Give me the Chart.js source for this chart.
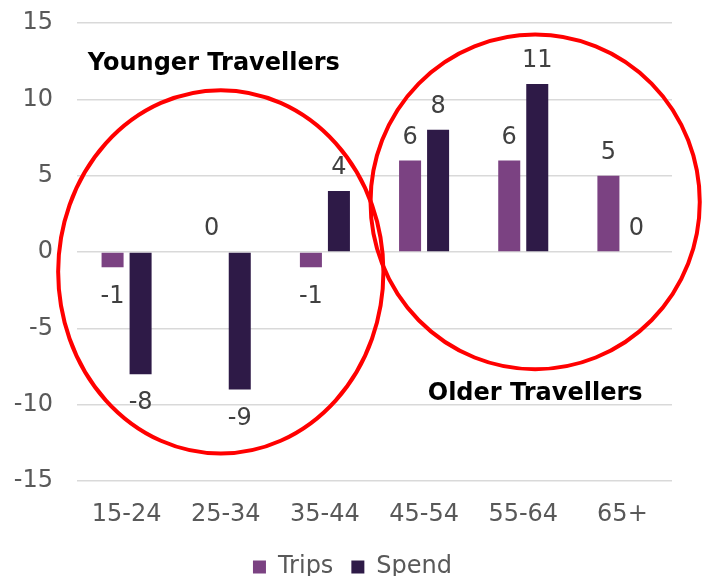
<!DOCTYPE html>
<html>
<head>
<meta charset="utf-8">
<script src="https://cdn.jsdelivr.net/npm/chart.js@4/dist/chart.umd.min.js"></script>
<style>
  html, body { margin: 0; padding: 0; background: #fff; }
  #wrap { width: 705px; height: 576px; }
</style>
</head>
<body>
<div id="wrap"><canvas id="chart" width="705" height="576"></canvas></div>
<script>
// 年齢層別の Trips / Spend 変化
const ageGroups = ['15-24', '25-34', '35-44', '45-54', '55-64', '65+'];
const tripsValues = [-1, 0, -1, 6, 6, 5];
const spendValues = [-8, -9, 4, 8, 11, 0];
const yTicks = [-15, -10, -5, 0, 5, 10, 15];

// 注記（カテゴリ番号と値の単位で指定）
const groupNotes = [
  { text: 'Younger Travellers', x: 0.88, y: 12.35, cx: 0.95, cy: -1.3, rx: 1.64, ry: 11.9 },
  { text: 'Older Travellers', x: 4.12, y: -9.3, cx: 4.12, cy: 3.28, rx: 1.66, ry: 10.96 }
];

const FONT = '"DejaVu Sans", Verdana, sans-serif';

const valueLabels = {
  id: 'valueLabels',
  afterDatasetsDraw(chart) {
    const ctx = chart.ctx;
    ctx.save();
    ctx.font = '24px ' + FONT;
    ctx.fillStyle = '#404040';
    ctx.textAlign = 'center';
    ctx.textBaseline = 'middle';
    chart.data.datasets.forEach((ds, i) => {
      chart.getDatasetMeta(i).data.forEach((bar, j) => {
        const v = ds.data[j];
        const y = v < 0 ? bar.y + 29 : bar.y - 23;
        ctx.fillText(String(v), bar.x, y);
      });
    });
    ctx.restore();
  }
};

const notes = {
  id: 'notes',
  afterDatasetsDraw(chart) {
    const ctx = chart.ctx;
    const xs = chart.scales.x, ys = chart.scales.y;
    const step = xs.getPixelForValue(1) - xs.getPixelForValue(0);
    const unit = ys.getPixelForValue(0) - ys.getPixelForValue(1);
    ctx.save();
    groupNotes.forEach(n => {
      ctx.beginPath();
      ctx.ellipse(xs.getPixelForValue(n.cx), ys.getPixelForValue(n.cy),
        n.rx * step, n.ry * unit, 0, 0, Math.PI * 2);
      ctx.strokeStyle = '#ff0000';
      ctx.lineWidth = 4;
      ctx.stroke();
      ctx.font = 'bold 24px ' + FONT;
      ctx.fillStyle = '#000';
      ctx.textAlign = 'center';
      ctx.textBaseline = 'middle';
      ctx.fillText(n.text, xs.getPixelForValue(n.x), ys.getPixelForValue(n.y));
    });
    ctx.restore();
  }
};

new Chart(document.getElementById('chart'), {
  type: 'bar',
  data: {
    labels: ageGroups,
    datasets: [
      { label: 'Trips', data: tripsValues, backgroundColor: '#7b4282' },
      { label: 'Spend', data: spendValues, backgroundColor: '#2e1a47' }
    ]
  },
  options: {
    responsive: false,
    animation: false,
    categoryPercentage: 0.565,
    barPercentage: 0.786,
    layout: { padding: { top: 23, right: 0, left: 0, bottom: -13 } },
    scales: {
      x: {
        afterFit(s) { s.height = 56; },
        grid: { display: false, drawTicks: false },
        border: { display: false },
        ticks: { color: '#595959', font: { family: FONT, size: 24 }, padding: 19 }
      },
      y: {
        min: -15, max: 15,
        afterFit(s) { s.width = 77; },
        afterBuildTicks(s) { s.ticks = yTicks.map(v => ({ value: v })); },
        grid: { color: '#d9d9d9', lineWidth: 1.5, drawTicks: true, tickLength: 24, tickColor: 'rgba(0,0,0,0)' },
        border: { display: false },
        ticks: { color: '#595959', font: { family: FONT, size: 24 }, padding: 0 }
      },
      // 右側の余白用（表示なし）
      yRight: {
        position: 'right',
        afterFit(s) { s.width = 33; },
        grid: { display: false, drawTicks: false },
        border: { display: false },
        ticks: { display: false }
      }
    },
    plugins: {
      legend: {
        position: 'bottom',
        labels: {
          color: '#595959',
          font: { family: FONT, size: 24 },
          boxWidth: 13, boxHeight: 13, padding: 18
        }
      },
      tooltip: { enabled: false }
    }
  },
  plugins: [valueLabels, notes]
});
</script>
</body>
</html>
